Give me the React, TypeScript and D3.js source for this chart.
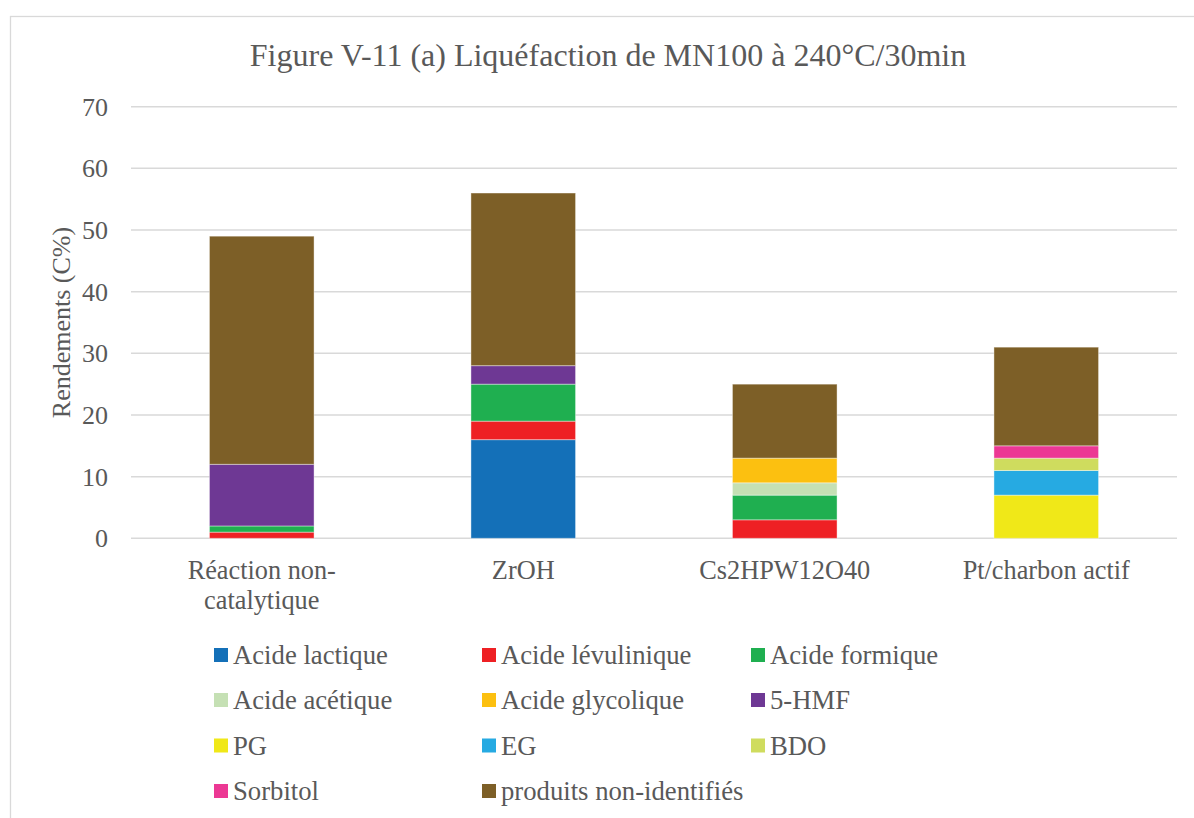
import React from "react";
import * as d3 from "d3";

const categories = [["Réaction non-", "catalytique"], ["ZrOH"], ["Cs2HPW12O40"], ["Pt/charbon actif"]];
const categoryKeys = ["Réaction non-catalytique", "ZrOH", "Cs2HPW12O40", "Pt/charbon actif"];

const seriesNames = [
  "Acide lactique",
  "Acide lévulinique",
  "Acide formique",
  "Acide acétique",
  "Acide glycolique",
  "5-HMF",
  "PG",
  "EG",
  "BDO",
  "Sorbitol",
  "produits non-identifiés",
];

const seriesColors = [
  "#1470B8",
  "#EE2024",
  "#1FAF50",
  "#C5E0B4",
  "#FCC010",
  "#6E3894",
  "#F0E818",
  "#26AAE2",
  "#CFDC5E",
  "#EC3894",
  "#7D5F27",
];

// values per series, in category order
const acideLactique = [0, 16, 0, 0];
const acideLevulinique = [1, 3, 3, 0];
const acideFormique = [1, 6, 4, 0];
const acideAcetique = [0, 0, 2, 0];
const acideGlycolique = [0, 0, 4, 0];
const hmf = [10, 3, 0, 0];
const pg = [0, 0, 0, 7];
const eg = [0, 0, 0, 4];
const bdo = [0, 0, 0, 2];
const sorbitol = [0, 0, 0, 2];
const nonIdentifies = [37, 28, 12, 16];

const seriesValues = [
  acideLactique,
  acideLevulinique,
  acideFormique,
  acideAcetique,
  acideGlycolique,
  hmf,
  pg,
  eg,
  bdo,
  sorbitol,
  nonIdentifies,
];

const yTicks = [0, 10, 20, 30, 40, 50, 60, 70];

const title = "Figure V-11 (a) Liquéfaction de MN100 à 240°C/30min";
const yLabel = "Rendements (C%)";

const FONT = "'Liberation Serif', 'Times New Roman', serif";
const TEXT = "#595959";
const GRID = "#D9D9D9";

export default function App() {
  const W = 1194;
  const H = 818;
  const x = d3
    .scaleBand<string>()
    .domain(categoryKeys)
    .range([131, 1177])
    .paddingInner(0.6)
    .paddingOuter(0.3);
  const y = d3.scaleLinear().domain([0, 70]).range([538.3, 106.7]);

  const table = categoryKeys.map((c, i) => {
    const row: Record<string, any> = { cat: c };
    seriesNames.forEach((s, j) => (row[s] = seriesValues[j][i]));
    return row;
  });
  const stacked = d3.stack<any>().keys(seriesNames)(table);

  const legendCols = [214, 482, 751];
  const legendRows = [655, 700, 745.5, 791];

  return (
    <div style={{ position: "absolute", left: 0, top: 0 }}>
      <svg width={W} height={H} style={{ display: "block", background: "#fff" }}>
        <rect x={10.5} y={16.5} width={1300} height={1000} fill="#fff" stroke={GRID} strokeWidth={1.3} />
        <text x={608} y={66} textAnchor="middle" fontFamily={FONT} fontSize={32} fill={TEXT}>
          {title}
        </text>
        {yTicks.map((t) => (
          <g key={t}>
            <line x1={131} x2={1177} y1={y(t)} y2={y(t)} stroke={GRID} strokeWidth={1.5} />
            <text x={108} y={y(t) + 9} textAnchor="end" fontFamily={FONT} fontSize={26} fill={TEXT}>
              {t}
            </text>
          </g>
        ))}
        {stacked.map((layer, j) =>
          layer.map((d, i) => {
            const h = y(d[0]) - y(d[1]);
            if (h <= 0) return null;
            return (
              <rect
                key={`${j}-${i}`}
                x={x(categoryKeys[i])}
                y={y(d[1])}
                width={x.bandwidth()}
                height={h}
                fill={seriesColors[j]}
                stroke="rgba(255,255,255,0.4)"
                strokeWidth={1}
              />
            );
          })
        )}
        {categories.map((lines, i) => (
          <text
            key={i}
            x={(x(categoryKeys[i]) as number) + x.bandwidth() / 2}
            textAnchor="middle"
            fontFamily={FONT}
            fontSize={26.3}
            fill={TEXT}
          >
            {lines.map((l, k) => (
              <tspan key={k} x={(x(categoryKeys[i]) as number) + x.bandwidth() / 2} y={579 + k * 30}>
                {l}
              </tspan>
            ))}
          </text>
        ))}
        <text
          transform={`translate(70, 322.5) rotate(-90)`}
          textAnchor="middle"
          fontFamily={FONT}
          fontSize={26}
          fill={TEXT}
        >
          {yLabel}
        </text>
        {seriesNames.map((s, j) => {
          const col = j % 3;
          const row = Math.floor(j / 3);
          const lx = legendCols[col];
          const ly = legendRows[row];
          return (
            <g key={s}>
              <rect x={lx} y={ly - 7} width={14} height={14} fill={seriesColors[j]} />
              <text x={lx + 19} y={ly + 9} fontFamily={FONT} fontSize={26.7} fill={TEXT}>
                {s}
              </text>
            </g>
          );
        })}
      </svg>
    </div>
  );
}
